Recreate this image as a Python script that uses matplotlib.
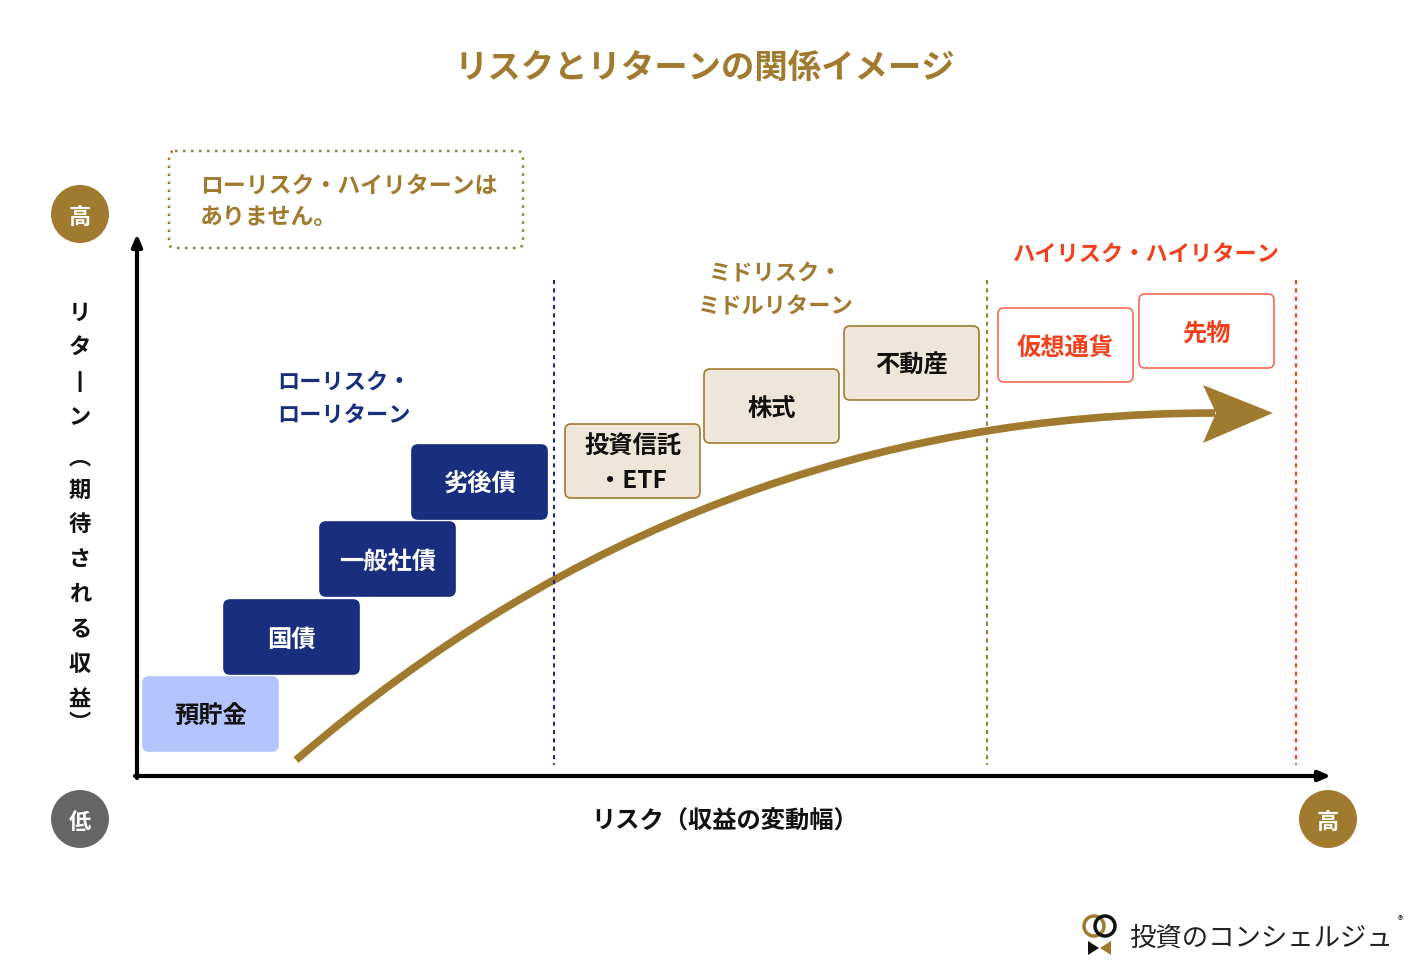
import matplotlib.pyplot as plt
from matplotlib.patches import FancyBboxPatch, Circle, Polygon, PathPatch
from matplotlib.path import Path

plt.rcParams['font.family'] = ['Noto Sans CJK JP', 'DejaVu Sans']

GOLD = "#A07B2F"
NAVY = "#1A2E80"
RED = "#F2401C"
RED_EDGE = "#F36B52"
BEIGE = "#EEE6D8"
LIGHT_BLUE = "#B3C5FC"
GRAY = "#666666"
DY = 3  # CJK glyphs sit a little high with va="center"

# data (pixel layout of the infographic, y grows downwards)
title = "リスクとリターンの関係イメージ"
note_lines = ["ローリスク・ハイリターンは", "ありません。"]

box_labels = ["預貯金", "国債", "一般社債", "劣後債",
              "投資信託\n・ETF", "株式", "不動産", "仮想通貨", "先物"]
box_left = [143, 224, 320, 412, 565, 704, 844, 998, 1139]
box_top = [677, 600, 522, 445, 424, 369, 326, 308, 294]
box_kind = ["light", "navy", "navy", "navy", "mid", "mid", "mid", "high", "high"]
box_w, box_h = 135, 74

zone_labels = ["ローリスク・\nローリターン", "ミドリスク・\nミドルリターン", "ハイリスク・ハイリターン"]
zone_pos = [(277, 396), (776, 287), (1146, 252)]
zone_align = ["left", "center", "center"]
zone_color = [NAVY, GOLD, RED]

divider_x = [554, 987, 1296]
divider_color = [NAVY, GOLD, RED]

y_label = ["リ", "タ", "丨", "ン", "︵", "期", "待", "さ", "れ", "る", "収", "益", "︶"]
y_label_pos = [310, 345, 380, 415, 455, 487, 521, 556, 591, 626, 661, 696, 720]

curve_pts = [(296, 760), (700, 413), (1215, 413)]
arrow_head = [(1203, 385), (1273, 413), (1203, 443), (1216, 413)]

fig = plt.figure(figsize=(14.1, 9.8), dpi=100)
ax = fig.add_axes([0, 0, 1, 1])
ax.set_xlim(0, 1410)
ax.set_ylim(980, 0)
ax.axis("off")

# title
ax.text(705, 65 + DY, title, ha="center", va="center", fontsize=24, fontweight="bold", color=GOLD)

# note box
ax.add_patch(FancyBboxPatch((169, 151), 354, 97, boxstyle="round,pad=0,rounding_size=6",
                            fc="white", ec=GOLD, lw=1.8, ls=(0, (1, 2.2))))
for i, line in enumerate(note_lines):
    ax.text(200, 183 + 31 * i + DY, line, ha="left", va="center", fontsize=16.5,
            fontweight="bold", color=GOLD)

# axes arrows
ax.annotate("", xy=(137, 234), xytext=(137, 778),
            arrowprops=dict(arrowstyle="-|>,head_length=0.7,head_width=0.3", lw=3, color="black",
                            shrinkA=0, shrinkB=0))
ax.annotate("", xy=(1331, 776), xytext=(135, 776),
            arrowprops=dict(arrowstyle="-|>,head_length=0.7,head_width=0.3", lw=3, color="black",
                            shrinkA=0, shrinkB=0))

# high / low circles
for (cx, cy), txt, col in [((80, 214), "高", GOLD), ((80, 819), "低", GRAY), ((1328, 819), "高", GOLD)]:
    ax.add_patch(Circle((cx, cy), 29, fc=col, ec="none"))
    ax.text(cx, cy + DY, txt, ha="center", va="center", fontsize=16, fontweight="bold", color="white")

# vertical y label
for ch, yy in zip(y_label, y_label_pos):
    ax.text(80, yy + DY, ch, ha="center", va="center", fontsize=16, fontweight="bold",
            color="#111111")

# x label
ax.text(725, 819 + DY, "リスク（収益の変動幅）", ha="center", va="center", fontsize=17.5,
        fontweight="bold", color="#111111")

# dividers
for x, c in zip(divider_x, divider_color):
    ax.plot([x, x], [280, 765], color=c, lw=1.5, ls=(0, (2, 2)))

# zone labels
for txt, (x, y), ha, c in zip(zone_labels, zone_pos, zone_align, zone_color):
    ax.text(x, y + DY, txt, ha=ha, va="center", fontsize=16, fontweight="bold", color=c,
            linespacing=1.6)

# curve + arrow head
path = Path(curve_pts, [Path.MOVETO, Path.CURVE3, Path.CURVE3])
ax.add_patch(PathPatch(path, fc="none", ec=GOLD, lw=5.5, capstyle="butt"))
ax.add_patch(Polygon(arrow_head, closed=True, fc=GOLD, ec="none"))

# boxes
styles = {
    "light": (LIGHT_BLUE, LIGHT_BLUE, "#111111"),
    "navy": (NAVY, NAVY, "white"),
    "mid": (BEIGE, GOLD, "#111111"),
    "high": ("white", RED_EDGE, RED),
}
for lab, x, y, kind in zip(box_labels, box_left, box_top, box_kind):
    fc, ec, tc = styles[kind]
    ax.add_patch(FancyBboxPatch((x, y), box_w, box_h, boxstyle="round,pad=0,rounding_size=6",
                                fc=fc, ec=ec, lw=1.2, zorder=3))
    ax.text(x + box_w / 2, y + box_h / 2 + DY, lab, ha="center", va="center", fontsize=17.5,
            fontweight="bold", color=tc, linespacing=1.5, zorder=4)

# logo
ax.add_patch(Circle((1094, 926), 10, fc="none", ec=GOLD, lw=2.5))
ax.add_patch(Circle((1105, 926), 10, fc="none", ec="#111111", lw=2.5))
ax.add_patch(Polygon([(1088, 941), (1088, 955), (1099, 948)], fc="#111111", ec="none"))
ax.add_patch(Polygon([(1111, 941), (1111, 955), (1100, 948)], fc=GOLD, ec="none"))
ax.text(1129, 935 + DY, "投資のコンシェルジュ", ha="left", va="center", fontsize=19,
        color="#222222")
ax.text(1398, 921, "®", ha="left", va="center", fontsize=8, color="#222222")

fig.savefig("out.png", dpi=100)
